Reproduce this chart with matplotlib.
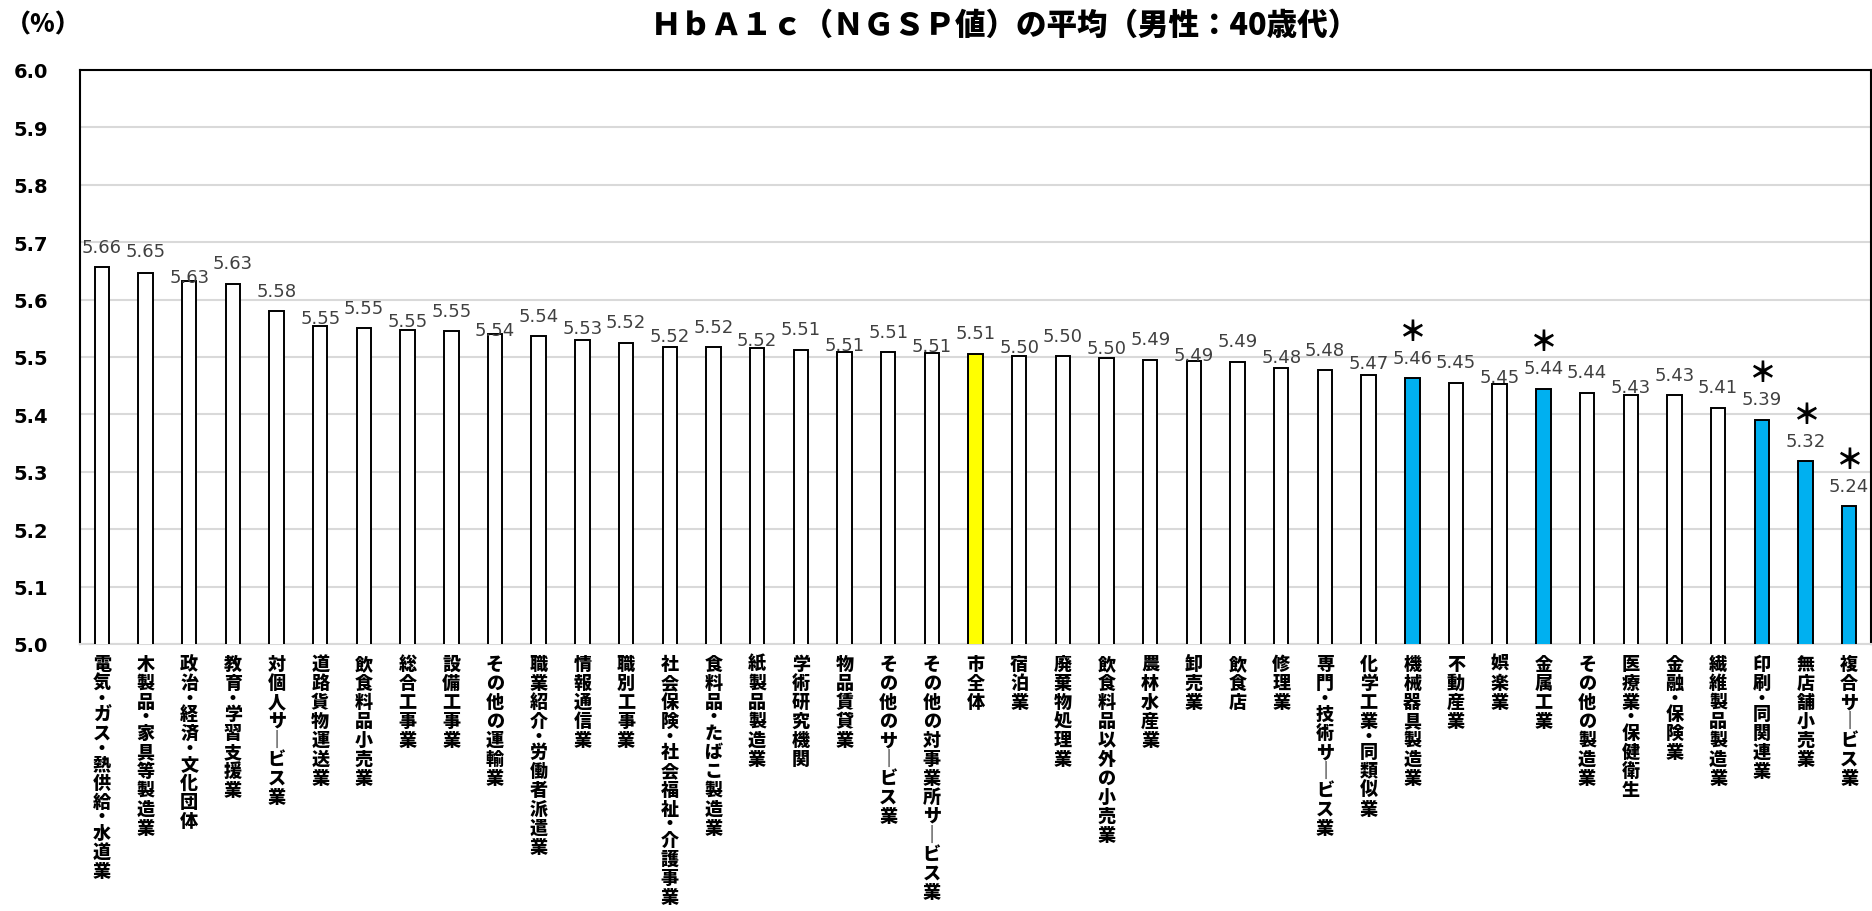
import numpy as np
import matplotlib
matplotlib.use("Agg")
import matplotlib.pyplot as plt

plt.rcParams['font.family'] = ['Noto Sans CJK JP', 'DejaVu Sans']

# 業種ごとの平均値（左から順に）
categories = [
    "電気・ガス・熱供給・水道業", "木製品・家具等製造業", "政治・経済・文化団体",
    "教育・学習支援業", "対個人サービス業", "道路貨物運送業", "飲食料品小売業",
    "総合工事業", "設備工事業", "その他の運輸業", "職業紹介・労働者派遣業",
    "情報通信業", "職別工事業", "社会保険・社会福祉・介護事業", "食料品・たばこ製造業",
    "紙製品製造業", "学術研究機関", "物品賃貸業", "その他のサービス業",
    "その他の対事業所サービス業", "市全体", "宿泊業", "廃棄物処理業",
    "飲食料品以外の小売業", "農林水産業", "卸売業", "飲食店", "修理業",
    "専門・技術サービス業", "化学工業・同類似業", "機械器具製造業", "不動産業",
    "娯楽業", "金属工業", "その他の製造業", "医療業・保健衛生", "金融・保険業",
    "繊維製品製造業", "印刷・同関連業", "無店舗小売業", "複合サービス業",
]
values = [
    5.656, 5.646, 5.633, 5.628, 5.581, 5.554, 5.550, 5.547, 5.546, 5.540,
    5.537, 5.529, 5.524, 5.518, 5.517, 5.516, 5.513, 5.509, 5.508, 5.507,
    5.506, 5.502, 5.501, 5.499, 5.494, 5.493, 5.491, 5.481, 5.478, 5.469,
    5.463, 5.454, 5.453, 5.444, 5.438, 5.434, 5.434, 5.411, 5.391, 5.319,
    5.240,
]
city_total = "市全体"
significant = ["機械器具製造業", "金属工業", "印刷・同関連業", "無店舗小売業", "複合サービス業"]

# データラベルのずらし量（px、棒の上端から）
label_offsets = [20, 22, 4, 21, 20, 8, 20, 9, 20, 4, 20, 12, 21, 11, 20, 8, 21, 7, 20, 7,
                 21, 9, 20, 10, 21, 6, 21, 11, 20, 12, 20, 21, 7, 21, 21, 8, 20, 21, 21, 20, 20]

PX = 0.72  # 1px -> pt (dpi=100)

fig = plt.figure(figsize=(18.72, 9.12), dpi=100)
ax = fig.add_axes([80 / 1872, 1 - 645 / 912, (1871 - 80) / 1872, (645 - 71) / 912])

x = np.arange(len(categories))
colors = []
for c in categories:
    if c == city_total:
        colors.append("#FFFF00")
    elif c in significant:
        colors.append("#00B0F0")
    else:
        colors.append("white")

ax.bar(x, values, width=0.33, color=colors, edgecolor="black", linewidth=1.4, zorder=3)

ax.set_xlim(-0.5, len(categories) - 0.5)
ax.set_ylim(5.0, 6.0)
yt = np.round(np.arange(5.0, 6.01, 0.1), 1)
ax.set_yticks(yt)
ax.set_yticklabels(["%.1f" % v for v in yt], fontfamily="DejaVu Sans", fontweight="bold", fontsize=14)
ax.tick_params(axis="y", length=0, pad=23)
ax.set_xticks([])
ax.grid(axis="y", color="#D9D9D9", linewidth=1.5, zorder=0)
for s in ["left", "top", "right"]:
    ax.spines[s].set_color("black")
    ax.spines[s].set_linewidth(1.5)
ax.spines["bottom"].set_color("#D9D9D9")
ax.spines["bottom"].set_linewidth(1.5)

# 値ラベルと有意マーク
for i, (v, off) in enumerate(zip(values, label_offsets)):
    ax.annotate("%.2f" % v, xy=(i, v), xytext=(0, off * PX), textcoords="offset points",
                ha="center", va="center", fontsize=13, color="#404040",
                fontfamily="DejaVu Sans", zorder=5)
    if categories[i] in significant:
        ax.annotate("＊", xy=(i, v), xytext=(0, (off + 26) * PX), textcoords="offset points",
                    ha="center", va="center", fontsize=20, fontweight="heavy", color="black")

# 縦書きの項目名
for i, name in enumerate(categories):
    y = 10
    for ch in name.replace("ー", "｜"):
        h = 12 if ch == "・" else 19
        ax.annotate(ch, xy=(i, 0), xycoords=("data", "axes fraction"),
                    xytext=(0, -(y + h / 2) * PX), textcoords="offset points",
                    ha="center", va="center", fontsize=13, fontweight="heavy",
                    annotation_clip=False)
        y += h

fig.text(1005 / 1872, 1 - 25 / 912, "ＨｂＡ１ｃ（ＮＧＳＰ値）の平均（男性：40歳代）",
         ha="center", va="center", fontsize=22, fontweight="heavy")
fig.text(6 / 1872, 1 - 24 / 912, "（%）", ha="left", va="center", fontsize=18, fontweight="heavy")

fig.savefig("out.png", dpi=100)
